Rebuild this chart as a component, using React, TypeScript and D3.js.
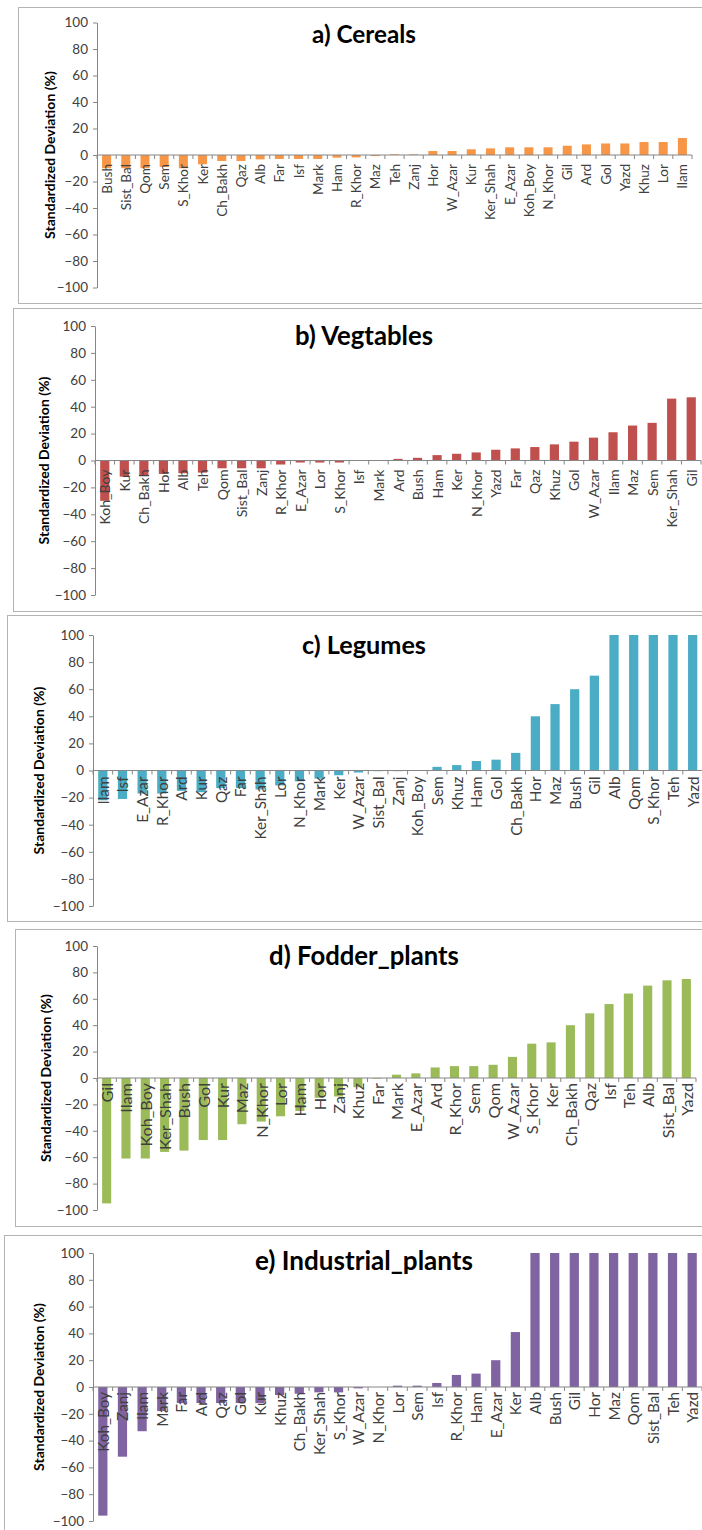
import React, { useEffect, useRef } from 'react';
import * as d3 from 'd3';

const WIDTH = 702;
const HEIGHT = 1530;

// a) Cereals
const cerealCats = ['Bush', 'Sist_Bal', 'Qom', 'Sem', 'S_Khor', 'Ker', 'Ch_Bakh', 'Qaz', 'Alb', 'Far', 'Isf', 'Mark', 'Ham', 'R_Khor', 'Maz', 'Teh', 'Zanj', 'Hor', 'W_Azar', 'Kur', 'Ker_Shah', 'E_Azar', 'Koh_Boy', 'N_Khor', 'Gil', 'Ard', 'Gol', 'Yazd', 'Khuz', 'Lor', 'Ilam'];
const cerealVals = [-10, -10, -10, -9, -10, -7, -4.5, -4.5, -3.3, -3, -3, -3, -2, -1.8, -0.8, 0.5, 0.5, 3, 3, 4.3, 5, 5.8, 5.8, 5.8, 7, 8, 8.7, 8.7, 9.8, 9.8, 12.8];

// b) Vegtables
const vegCats = ['Koh_Boy', 'Kur', 'Ch_Bakh', 'Hor', 'Alb', 'Teh', 'Qom', 'Sist_Bal', 'Zanj', 'R_Khor', 'E_Azar', 'Lor', 'S_Khor', 'Isf', 'Mark', 'Ard', 'Bush', 'Ham', 'Ker', 'N_Khor', 'Yazd', 'Far', 'Qaz', 'Khuz', 'Gol', 'W_Azar', 'Ilam', 'Maz', 'Sem', 'Ker_Shah', 'Gil'];
const vegVals = [-30, -12, -11.5, -10, -9.5, -9, -5.8, -5.8, -5.8, -3, -1.5, -1.5, -1.5, 0, 0, 1.2, 2, 4, 5, 6, 8, 9, 10, 12, 14, 17, 21, 26, 28, 46, 47];

// c) Legumes
const legumeCats = ['Ilam', 'Isf', 'E_Azar', 'R_Khor', 'Ard', 'Kur', 'Qaz', 'Far', 'Ker_Shah', 'Lor', 'N_Khor', 'Mark', 'Ker', 'W_Azar', 'Sist_Bal', 'Zanj', 'Koh_Boy', 'Sem', 'Khuz', 'Ham', 'Gol', 'Ch_Bakh', 'Hor', 'Maz', 'Bush', 'Gil', 'Alb', 'Qom', 'S_Khor', 'Teh', 'Yazd'];
const legumeVals = [-22, -21, -17, -17, -15, -16, -13, -13, -14, -11, -8, -6, -3.5, -1.5, -0.5, -0.5, 0, 2.7, 4, 7, 8, 13, 40, 49, 60, 70, 100, 100, 100, 100, 100];

// d) Fodder_plants
const fodderCats = ['Gil', 'Ilam', 'Koh_Boy', 'Ker_Shah', 'Bush', 'Gol', 'Kur', 'Maz', 'N_Khor', 'Lor', 'Ham', 'Hor', 'Zanj', 'Khuz', 'Far', 'Mark', 'E_Azar', 'Ard', 'R_Khor', 'Sem', 'Qom', 'W_Azar', 'S_Khor', 'Ker', 'Ch_Bakh', 'Qaz', 'Isf', 'Teh', 'Alb', 'Sist_Bal', 'Yazd'];
const fodderVals = [-95, -61, -61, -56, -55, -47, -47, -35, -33, -29, -25, -15, -14, -7, -0.5, 2.5, 3.5, 8, 9, 9, 10, 16, 26, 27, 40, 49, 56, 64, 70, 74, 75];

// e) Industrial_plants
const industrialCats = ['Koh_Boy', 'Zanj', 'Ilam', 'Mark', 'Far', 'Ard', 'Qaz', 'Gol', 'Kur', 'Khuz', 'Ch_Bakh', 'Ker_Shah', 'S_Khor', 'W_Azar', 'N_Khor', 'Lor', 'Sem', 'Isf', 'R_Khor', 'Ham', 'E_Azar', 'Ker', 'Alb', 'Bush', 'Gil', 'Hor', 'Maz', 'Qom', 'Sist_Bal', 'Teh', 'Yazd'];
const industrialVals = [-96, -52, -33, -18, -12, -12, -12, -12, -12, -6, -5, -4, -4, -1, 0, 1, 1, 3, 9, 10, 20, 41, 100, 100, 100, 100, 100, 100, 100, 100, 100];

const yTicks = [100, 80, 60, 40, 20, 0, -20, -40, -60, -80, -100];
const yTitle = 'Standardized Deviation (%)';

interface IPanel {
    title: string
    cats: string[]
    vals: number[]
    color: string
    frame: { x: number, y: number, h: number }
    axisX: number
    xEnd: number
    yTop: number
    yBottom: number
    titleY: number
    titleLen: number   // on-screen width of the title in the picture
    catLen: number     // on-screen length of the "Ker_Shah" label
    catOffset: number
    yTitleOffset: number
}

const PANELS: IPanel[] = [
    { title: 'a) Cereals', cats: cerealCats, vals: cerealVals, color: '#F79646',
      frame: { x: 18, y: 7, h: 296 }, axisX: 97, xEnd: 692, yTop: 22.5, yBottom: 287.5,
      titleY: 43, titleLen: 104, catLen: 56, catOffset: 9, yTitleOffset: 48 },
    { title: 'b) Vegtables', cats: vegCats, vals: vegVals, color: '#C0504D',
      frame: { x: 13, y: 308, h: 303 }, axisX: 95, xEnd: 701, yTop: 326, yBottom: 595,
      titleY: 345, titleLen: 138, catLen: 58, catOffset: 9, yTitleOffset: 52 },
    { title: 'c) Legumes', cats: legumeCats, vals: legumeVals, color: '#4BACC6',
      frame: { x: 7, y: 615, h: 306 }, axisX: 93, xEnd: 702.5, yTop: 635, yBottom: 906,
      titleY: 654, titleLen: 124, catLen: 63, catOffset: 6, yTitleOffset: 55 },
    { title: 'd) Fodder_plants', cats: fodderCats, vals: fodderVals, color: '#9BBB59',
      frame: { x: 15, y: 929, h: 297 }, axisX: 97, xEnd: 696, yTop: 946, yBottom: 1210,
      titleY: 965, titleLen: 190, catLen: 67, catOffset: 5, yTitleOffset: 52 },
    { title: 'e) Industrial_plants', cats: industrialCats, vals: industrialVals, color: '#8064A2',
      frame: { x: 4, y: 1235, h: 300 }, axisX: 93, xEnd: 702, yTop: 1253, yBottom: 1521,
      titleY: 1270, titleLen: 218, catLen: 63, catOffset: 5, yTitleOffset: 55 },
];

const FONT = "Lato, 'Open Sans', sans-serif";
const AXIS_COLOR = '#868686';
const TEXT_COLOR = '#404040';

type SVGSel = d3.Selection<SVGSVGElement, unknown, null, undefined>;

// font size that gives `text` the wanted on-screen length
const fitFont = (svg: SVGSel, text: string, weight: string, target: number) => {
    const t = svg.append('text')
        .style('font-family', FONT)
        .style('font-weight', weight)
        .style('font-size', '100px')
        .text(text);
    const len = (t.node() as SVGTextElement).getComputedTextLength();
    t.remove();
    return len > 0 ? 100 * target / len : 14;
};

const drawPanel = (svg: SVGSel, p: IPanel) => {
    const g = svg.append('g');

    // frame around the panel picture
    g.append('rect')
        .attr('x', p.frame.x + 0.5)
        .attr('y', p.frame.y + 0.5)
        .attr('width', WIDTH + 20)
        .attr('height', p.frame.h)
        .attr('fill', 'none')
        .attr('stroke', '#b4b4b4')
        .attr('stroke-width', 1);

    const yScale = d3.scaleLinear().domain([-100, 100]).range([p.yBottom, p.yTop]);

    const xScale = d3.scaleBand()
        .domain(p.cats)
        .range([p.axisX, p.xEnd])
        .paddingInner(0.53)
        .paddingOuter(0.265);

    const data = p.cats.map((c, i) => ({ cat: c, val: p.vals[i] }));
    const y0 = yScale(0);

    // bars
    g.selectAll('rect.bar')
        .data(data)
        .enter().append('rect')
        .attr('class', 'bar')
        .attr('x', d => xScale(d.cat)!)
        .attr('width', xScale.bandwidth())
        .attr('y', d => Math.min(yScale(d.val), y0))
        .attr('height', d => Math.abs(yScale(d.val) - y0))
        .attr('fill', p.color);

    // y axis
    const yAxis = d3.axisLeft(yScale).tickValues(yTicks).tickSize(4).tickSizeOuter(0).tickPadding(5);
    const ya = g.append('g')
        .attr('transform', 'translate(' + p.axisX + ',0)')
        .call(yAxis);
    ya.select('.domain').attr('stroke', AXIS_COLOR);
    ya.selectAll('.tick line').attr('stroke', AXIS_COLOR);
    ya.selectAll('.tick text')
        .attr('fill', TEXT_COLOR)
        .style('font-family', FONT)
        .style('font-size', '13.5px');

    // category axis at zero
    const step = xScale.step();
    g.append('line')
        .attr('x1', p.axisX).attr('x2', p.xEnd)
        .attr('y1', y0).attr('y2', y0)
        .attr('stroke', AXIS_COLOR);
    g.selectAll('line.ctick')
        .data(d3.range(p.cats.length + 1))
        .enter().append('line')
        .attr('class', 'ctick')
        .attr('x1', i => p.axisX + i * step).attr('x2', i => p.axisX + i * step)
        .attr('y1', y0).attr('y2', y0 + 4)
        .attr('stroke', AXIS_COLOR);

    // category labels, rotated, drawn over the bars
    const catFont = fitFont(svg, 'Ker_Shah', 'normal', p.catLen);
    g.selectAll('text.cat')
        .data(data)
        .enter().append('text')
        .attr('class', 'cat')
        .attr('transform', d => 'translate(' + (xScale(d.cat)! + xScale.bandwidth() / 2) + ',' + (y0 + p.catOffset) + ') rotate(-90)')
        .attr('text-anchor', 'end')
        .attr('dominant-baseline', 'central')
        .attr('fill', TEXT_COLOR)
        .style('font-family', FONT)
        .style('font-size', catFont + 'px')
        .text(d => d.cat);

    // y axis title
    const yTitleFont = fitFont(svg, yTitle, 'bold', 168);
    g.append('text')
        .attr('transform', 'translate(' + (p.axisX - p.yTitleOffset) + ',' + y0 + ') rotate(-90)')
        .attr('text-anchor', 'middle')
        .attr('dominant-baseline', 'central')
        .attr('fill', '#000')
        .style('font-family', FONT)
        .style('font-weight', 'bold')
        .style('font-size', yTitleFont + 'px')
        .text(yTitle);

    // panel title
    const titleFont = fitFont(svg, p.title, 'bold', p.titleLen);
    g.append('text')
        .attr('x', 364)
        .attr('y', p.titleY)
        .attr('text-anchor', 'middle')
        .attr('fill', '#000')
        .style('font-family', FONT)
        .style('font-weight', 'bold')
        .style('font-size', titleFont + 'px')
        .text(p.title);
};

const App = () => {
    const ref = useRef<SVGSVGElement>(null);

    useEffect(() => {
        const svg = d3.select(ref.current!);
        svg.selectAll('*').remove();
        PANELS.forEach(p => drawPanel(svg, p));
    }, []);

    return (
        <div style={{ position: 'absolute', left: 0, top: 0, width: WIDTH, height: HEIGHT, overflow: 'hidden', background: '#fff' }}>
            <svg ref={ref} width={WIDTH} height={HEIGHT} style={{ display: 'block' }}></svg>
        </div>
    );
};

export default App;
